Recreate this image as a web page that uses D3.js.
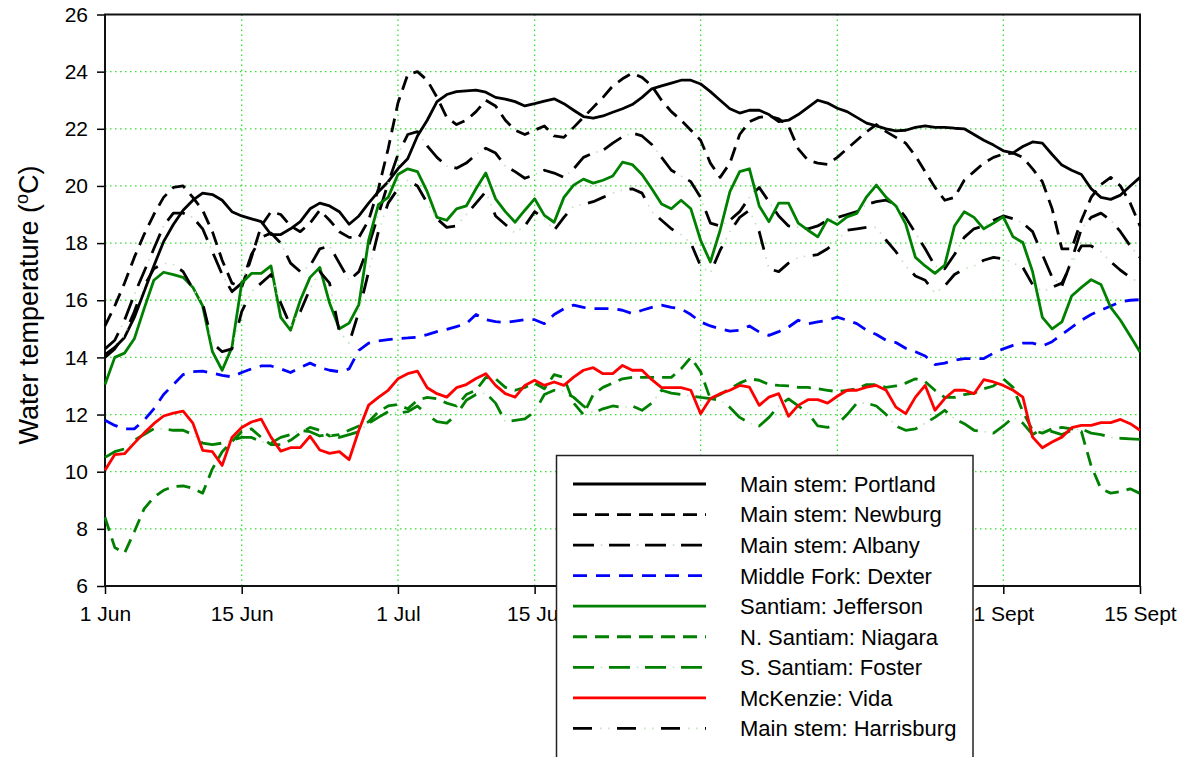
<!DOCTYPE html>
<html>
<head>
<meta charset="utf-8">
<script src="https://cdn.jsdelivr.net/npm/d3@7"></script>
<style>
  body { margin: 0; background: #fff; }
  svg { display: block; font-family: "Liberation Sans", Arial, Helvetica, sans-serif; }
</style>
</head>
<body>
<svg id="chart" width="1189" height="757"></svg>
<script>
// Daily water temperature (°C), 1 June .. 15 September (107 days)
const firstDay = new Date(2007, 5, 1);

const tickDates = [
  new Date(2007, 5, 1), new Date(2007, 5, 15), new Date(2007, 6, 1), new Date(2007, 6, 15),
  new Date(2007, 7, 1), new Date(2007, 7, 15), new Date(2007, 8, 1), new Date(2007, 8, 15)
];
// the August ticks sit behind the legend box, so they carry no label
const tickLabels = ["1 Jun", "15 Jun", "1 Jul", "15 Jul", "", "", "1 Sept", "15 Sept"];
const yTicks = [6, 8, 10, 12, 14, 16, 18, 20, 22, 24, 26];

const portland = [
  14.1, 14.35, 14.7, 15.4, 16.3, 17.2, 18.05, 18.65, 19.15, 19.5,
  19.75, 19.7, 19.5, 19.1, 18.95, 18.85, 18.75, 18.3, 18.3, 18.5,
  18.75, 19.2, 19.4, 19.3, 19.1, 18.66, 18.95, 19.4, 19.8, 20.15,
  20.6, 20.95, 21.75, 22.3, 22.95, 23.2, 23.3, 23.33, 23.35, 23.28,
  23.1, 23.04, 22.95, 22.8, 22.88, 22.97, 23.05, 22.88, 22.65, 22.43,
  22.37, 22.45, 22.58, 22.7, 22.85, 23.1, 23.4, 23.5, 23.6, 23.7,
  23.7, 23.57, 23.3, 23.0, 22.7, 22.55, 22.65, 22.65, 22.5, 22.25,
  22.3, 22.5, 22.75, 23.0, 22.9, 22.72, 22.6, 22.4, 22.2, 22.1,
  22.0, 21.93, 21.95, 22.05, 22.1, 22.05, 22.05, 22.02, 22.0, 21.8,
  21.6, 21.43, 21.23, 21.16, 21.38, 21.54, 21.5, 21.1, 20.73, 20.55,
  20.4, 19.9, 19.6, 19.53, 19.68, 20.0, 20.3
];
const newburg = [
  15.1, 15.8, 16.6, 17.5, 18.3, 19.0, 19.6, 19.95, 20.0, 19.6,
  19.15, 18.4, 17.4, 16.6, 16.45, 17.5, 18.6, 19.1, 19.0, 18.6,
  18.4, 18.7, 19.15, 18.8, 18.4, 18.2, 18.2, 18.8, 19.9, 21.3,
  22.9, 23.9, 24.0, 23.7, 23.1, 22.4, 22.15, 22.3, 22.6, 23.0,
  22.8, 22.3, 21.95, 21.8, 21.95, 22.1, 21.75, 21.7, 22.05, 22.4,
  22.75, 23.1, 23.5, 23.75, 23.95, 23.8, 23.5, 23.0, 22.6, 22.3,
  21.95, 21.6, 20.8, 20.3, 20.8, 21.8, 22.25, 22.4, 22.45, 22.35,
  22.1, 21.3, 20.9, 20.8, 20.75, 21.0, 21.3, 21.6, 21.9, 22.15,
  21.9, 21.7, 21.5, 21.05, 20.5, 19.95, 19.5, 19.6, 20.2, 20.5,
  20.8, 21.0, 21.12, 21.15, 21.0, 20.6, 20.15, 19.2, 17.8, 17.8,
  18.8, 19.6, 20.05, 20.3, 20.0, 19.4, 18.6
];
const albany = [
  14.3, 14.6, 15.3, 16.2, 17.0, 17.8, 18.6, 19.05, 19.05, 18.9,
  18.5, 17.7, 16.9, 16.3, 16.6, 17.6, 18.2, 18.35, 18.0, 17.3,
  17.0, 17.2, 17.8, 17.9, 17.3, 16.7, 17.0, 17.9, 19.0, 20.1,
  21.1, 21.8, 21.9, 21.4, 21.0, 20.7, 20.62, 20.8, 21.1, 21.32,
  21.15, 20.7, 20.5, 20.27, 20.4, 20.55, 20.45, 20.3, 20.6, 21.0,
  21.15, 21.25, 21.5, 21.72, 21.85, 21.75, 21.45, 21.0, 20.55, 20.35,
  20.15, 19.6, 18.7, 18.6, 18.8, 19.1, 19.6, 19.95, 19.45, 18.95,
  18.6, 18.55, 18.5, 18.6, 18.8, 18.9, 19.0, 19.1, 19.35, 19.45,
  19.5, 19.35, 18.9, 18.35, 17.8, 17.2, 17.1, 17.6, 18.2, 18.5,
  18.6, 18.8, 18.95, 18.85, 18.7, 18.4, 17.6, 16.8, 16.5, 17.4,
  18.5, 18.9, 19.05, 18.8, 18.4, 17.9, 17.5
];
const dexter = [
  11.8, 11.62, 11.5, 11.5, 11.8, 12.2, 12.7, 13.05, 13.4, 13.5,
  13.52, 13.45, 13.37, 13.32, 13.47, 13.6, 13.7, 13.7, 13.6, 13.47,
  13.65, 13.8, 13.65, 13.55, 13.5, 13.6, 14.25, 14.5, 14.58, 14.62,
  14.66, 14.68, 14.71, 14.8, 14.9, 14.98, 15.08, 15.18, 15.5, 15.32,
  15.25, 15.22, 15.27, 15.32, 15.32, 15.18, 15.5, 15.7, 15.83, 15.75,
  15.71, 15.71, 15.71, 15.65, 15.53, 15.65, 15.75, 15.83, 15.75, 15.7,
  15.5, 15.24, 15.1, 15.0, 14.92, 14.95, 15.1, 14.89, 14.77, 14.9,
  15.06, 15.3, 15.18, 15.24, 15.3, 15.41, 15.3, 15.18, 14.95, 14.8,
  14.6, 14.52, 14.32, 14.2, 14.05, 13.75, 13.8, 13.9, 13.96, 13.96,
  13.96, 14.15, 14.3, 14.42, 14.5, 14.5, 14.4, 14.55, 14.8, 15.05,
  15.3, 15.5, 15.65, 15.8, 15.94, 16.0, 16.02
];
const jefferson = [
  13.05, 14.0, 14.15, 14.65, 15.7, 16.7, 16.98, 16.9, 16.8, 16.45,
  15.8, 14.2, 13.55, 14.35, 16.6, 16.94, 16.94, 17.2, 15.4, 14.95,
  16.0, 16.8, 17.15, 15.9, 15.0, 15.2, 15.85, 18.1, 19.35, 19.6,
  20.4, 20.6, 20.5, 19.8, 18.9, 18.8, 19.2, 19.3, 19.9, 20.45,
  19.55, 19.1, 18.73, 19.15, 19.55, 18.97, 18.73, 19.6, 20.03, 20.24,
  20.1, 20.2, 20.35, 20.83, 20.75, 20.4, 19.9, 19.37, 19.2, 19.5,
  19.2, 18.1, 17.34, 18.45, 19.8, 20.5, 20.6, 19.3, 18.75, 19.4,
  19.4, 18.7, 18.45, 18.22, 18.83, 18.65, 18.92, 19.04, 19.62, 20.03,
  19.6, 19.3, 18.67, 17.5, 17.2, 16.94, 17.23, 18.6, 19.1, 18.9,
  18.5, 18.7, 18.92, 18.22, 18.02, 17.0, 15.4, 15.0, 15.24, 16.15,
  16.45, 16.72, 16.55, 15.75, 15.3, 14.75, 14.19
];
const niagara = [
  8.4, 7.35, 7.15, 7.9, 8.7, 9.1, 9.35, 9.48, 9.5, 9.42,
  9.25, 10.1, 10.7, 11.05, 11.4, 11.5, 11.2, 10.95, 10.95, 11.1,
  11.35, 11.55, 11.45, 11.25, 11.3, 11.45, 11.6, 11.75, 12.1, 12.3,
  12.35, 12.2, 12.5, 12.6, 12.55, 12.4, 12.3, 12.7, 12.85, 13.3,
  13.25, 12.95, 12.85, 12.95, 13.1, 12.9, 13.4, 13.3, 12.4, 12.0,
  12.7, 12.95, 13.1, 13.25, 13.3, 13.3, 13.3, 13.3, 13.3, 13.6,
  14.0, 13.5, 12.55, 12.7, 12.9, 13.1, 13.25, 13.2, 13.05, 13.02,
  13.0, 12.95, 12.95, 12.9, 12.85, 12.8, 12.85, 12.9, 13.05, 13.05,
  12.95, 13.0, 13.1, 13.25, 13.15, 12.85, 12.6, 12.6, 12.7, 12.75,
  12.9, 13.0, 13.25, 12.95, 12.1, 11.45, 11.35, 11.5, 11.55, 11.5,
  11.4, 10.2, 9.4, 9.25, 9.3, 9.4, 9.24
];
const foster = [
  10.5, 10.7, 10.8, 11.1, 11.3, 11.5, 11.5, 11.45, 11.45, 11.3,
  11.0, 10.95, 11.0, 11.1, 11.2, 11.2, 11.05, 11.0, 11.2, 11.3,
  11.45, 11.4, 11.25, 11.3, 11.2, 11.3, 11.4, 11.7, 11.9, 12.1,
  12.05, 12.1, 12.3, 12.0, 11.75, 11.7, 12.0, 12.5, 12.7, 12.75,
  12.4, 11.75, 11.8, 11.85, 12.1, 12.7, 12.85, 12.8, 12.6, 12.3,
  12.05, 12.2, 12.3, 12.25, 12.3, 12.15, 12.4, 12.85, 12.75, 12.7,
  12.65, 12.6, 12.56, 12.5, 12.25, 11.9, 11.7, 11.6, 11.9, 12.3,
  12.55, 12.3, 12.05, 11.6, 11.55, 11.65, 12.0, 12.4, 12.4, 12.3,
  12.0, 11.6, 11.45, 11.5, 11.7, 11.9, 12.15, 11.85, 11.68, 11.45,
  11.4, 11.35, 11.6, 11.9, 11.7, 11.3, 11.5, 11.4, 11.3, 11.45,
  11.5, 11.35, 11.3, 11.2, 11.17, 11.15, 11.13
];
const vida = [
  10.05, 10.6, 10.63, 11.0, 11.35, 11.68, 11.95, 12.05, 12.12, 11.7,
  10.75, 10.7, 10.22, 11.2, 11.55, 11.74, 11.84, 11.21, 10.72, 10.84,
  10.84, 11.24, 10.76, 10.64, 10.7, 10.42, 11.45, 12.33, 12.6, 12.85,
  13.25, 13.43, 13.52, 12.94, 12.73, 12.61, 12.94, 13.05, 13.26, 13.43,
  13.02, 12.73, 12.61, 13.02, 13.2, 13.02, 13.14, 13.02, 13.31, 13.55,
  13.64, 13.43, 13.43, 13.72, 13.55, 13.55, 13.22, 12.94, 12.94, 12.94,
  12.85, 12.03, 12.56, 12.73, 12.85, 13.02, 12.96, 12.32, 12.61, 12.73,
  11.94, 12.32, 12.52, 12.52, 12.4, 12.64, 12.85, 12.85, 12.96, 13.02,
  12.85, 12.26, 12.03, 12.61, 13.02, 12.15, 12.56, 12.85, 12.85, 12.73,
  13.22, 13.14, 13.02, 12.85, 12.61, 11.21, 10.84, 11.04, 11.21, 11.54,
  11.62, 11.62, 11.72, 11.72, 11.83, 11.68, 11.45
];
const harrisburg = [
  14.0, 14.3, 14.8, 15.6, 16.5, 17.1, 17.3, 17.25, 17.0, 16.4,
  15.9, 14.5, 14.2, 14.3, 15.6, 16.3, 16.6, 16.9, 15.9, 15.1,
  15.6, 16.4, 17.0, 16.6, 14.9, 14.5, 15.6, 17.0, 18.4, 19.4,
  19.9, 20.2, 20.0, 19.4, 18.85, 18.55, 18.6, 19.0, 19.4, 19.8,
  18.95, 18.65, 18.35, 18.6, 19.1, 18.85, 18.45, 18.9, 19.3, 19.35,
  19.45, 19.6, 19.75, 19.85, 19.9, 19.75, 19.1, 18.8, 18.5, 18.3,
  18.0, 17.2, 16.95, 17.75, 18.4, 18.9, 19.15, 18.4, 17.1, 17.0,
  17.3, 17.5, 17.55, 17.6, 17.8, 18.1, 18.45, 18.5, 18.55, 18.55,
  18.1, 17.7, 17.2, 16.85, 16.7, 16.25, 16.5, 16.9, 17.1, 17.2,
  17.4, 17.5, 17.45, 17.3, 17.15, 16.55, 16.3, 16.45, 16.6, 17.3,
  17.9, 17.9, 17.7, 17.35, 17.05, 16.8, 16.6
];

const stationNames = [
  "Main stem: Portland", "Main stem: Newburg", "Main stem: Albany",
  "Middle Fork: Dexter", "Santiam: Jefferson", "N. Santiam: Niagara",
  "S. Santiam: Foster", "McKenzie: Vida", "Main stem: Harrisburg"
];
const stationValues = [portland, newburg, albany, dexter, jefferson, niagara, foster, vida, harrisburg];

// Line appearance per station: colour, dash pattern, and optional faint dot pattern in the gaps
const DOT = "#bfe2bf";
const lineStyles = [
  { color: "#000000", dash: null },
  { color: "#000000", dash: "14,8" },
  { color: "#000000", dash: "21,15", dots: "1.5,34.5", dotOffset: 8.25 },
  { color: "#0000ff", dash: "14,9" },
  { color: "#008000", dash: null },
  { color: "#008000", dash: "14,8" },
  { color: "#008000", dash: "21,15", dots: "1.5,34.5", dotOffset: 8.25 },
  { color: "#ff0000", dash: null },
  { color: "#000000", dash: "19,25", dots: "1.5,6.5,1.5,34.5", dotOffset: 17 }
];

const svg = d3.select("#chart");
const W = 1189, H = 757;
const plot = { left: 105, right: 1140, top: 14.5, bottom: 586 };

const dayMs = 24 * 3600 * 1000;
const dates = d3.range(portland.length).map(i => new Date(firstDay.getTime() + i * dayMs));

const x = d3.scaleTime()
  .domain([tickDates[0], tickDates[tickDates.length - 1]])
  .range([plot.left, plot.right]);
const y = d3.scaleLinear().domain([6, 26]).range([plot.bottom, plot.top]);

svg.append("rect").attr("width", W).attr("height", H).attr("fill", "#fff");

// dotted green grid
const grid = svg.append("g").attr("stroke", "#33e033").attr("stroke-width", 1.3)
  .attr("stroke-dasharray", "1.5,3.5");
grid.selectAll("line.h").data(yTicks.slice(1, -1)).enter().append("line")
  .attr("x1", plot.left).attr("x2", plot.right)
  .attr("y1", d => y(d)).attr("y2", d => y(d));
grid.selectAll("line.v").data(tickDates.slice(1, -1)).enter().append("line")
  .attr("x1", d => x(d)).attr("x2", d => x(d))
  .attr("y1", plot.top).attr("y2", plot.bottom);

// axes
const yAxis = d3.axisLeft(y).tickValues(yTicks).tickSize(8).tickPadding(9);
const gy = svg.append("g").attr("transform", `translate(${plot.left},0)`).call(yAxis);
const xAxis = d3.axisBottom(x).tickValues(tickDates).tickSize(8).tickPadding(12)
  .tickFormat((d, i) => tickLabels[i]);
const gx = svg.append("g").attr("transform", `translate(0,${plot.bottom})`).call(xAxis);
[gy, gx].forEach(g => {
  g.select(".domain").remove();
  g.selectAll(".tick line").attr("stroke", "#000").attr("stroke-width", 1.5);
  g.selectAll(".tick text").attr("fill", "#000").attr("font-size", 21)
    .attr("font-family", '"Liberation Sans", Arial, sans-serif');
});
gx.selectAll(".tick text").filter(function () { return this.textContent === ""; }).remove();

// plot frame
svg.append("rect")
  .attr("x", plot.left).attr("y", plot.top)
  .attr("width", plot.right - plot.left).attr("height", plot.bottom - plot.top)
  .attr("fill", "none").attr("stroke", "#111").attr("stroke-width", 2);

// y-axis title
const title = svg.append("text")
  .attr("transform", "translate(38,305) rotate(-90)")
  .attr("text-anchor", "middle").attr("font-size", 27).attr("fill", "#000");
title.append("tspan").text("Water temperature (");
title.append("tspan").attr("font-size", 18).attr("dy", -10).text("o");
title.append("tspan").attr("dy", 10).text("C)");

// series lines
const lineGen = d3.line()
  .x((d, i) => x(dates[i]))
  .y(d => y(d));

const seriesG = svg.append("g").attr("fill", "none")
  .attr("stroke-linejoin", "round");
stationValues.forEach((vals, k) => {
  const st = lineStyles[k];
  const p = seriesG.append("path").attr("d", lineGen(vals))
    .attr("stroke", st.color).attr("stroke-width", 2.8);
  if (st.dash) p.attr("stroke-dasharray", st.dash);
  if (st.dots) {
    seriesG.append("path").attr("d", lineGen(vals))
      .attr("stroke", DOT).attr("stroke-width", 1.6)
      .attr("stroke-dasharray", st.dots).attr("stroke-dashoffset", st.dotOffset);
  }
});

// legend
const lg = svg.append("g");
lg.append("rect").attr("x", 556.5).attr("y", 455.5).attr("width", 416.5).attr("height", 330)
  .attr("fill", "#fff").attr("stroke", "#222").attr("stroke-width", 1.5);
const rowY = i => 484 + i * 30.55;
stationNames.forEach((name, k) => {
  const st = lineStyles[k];
  const l = lg.append("line").attr("x1", 573).attr("x2", 706)
    .attr("y1", rowY(k)).attr("y2", rowY(k))
    .attr("stroke", st.color).attr("stroke-width", 2.8);
  if (st.dash) l.attr("stroke-dasharray", st.dash);
  if (st.dots) {
    lg.append("line").attr("x1", 573).attr("x2", 706)
      .attr("y1", rowY(k)).attr("y2", rowY(k))
      .attr("stroke", DOT).attr("stroke-width", 1.6)
      .attr("stroke-dasharray", st.dots).attr("stroke-dashoffset", st.dotOffset);
  }
  lg.append("text").attr("x", 740).attr("y", rowY(k)).attr("dy", "0.36em")
    .attr("font-size", 22).attr("fill", "#000").text(name);
});
</script>
</body>
</html>
